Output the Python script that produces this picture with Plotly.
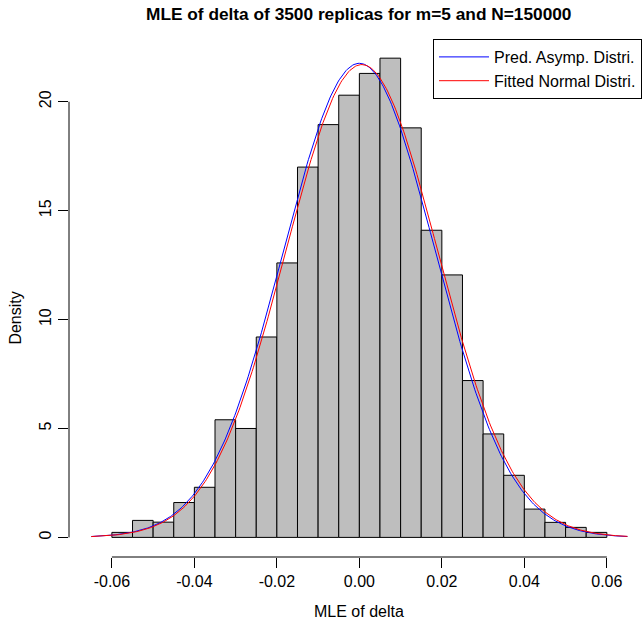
import numpy as np
import plotly.graph_objects as go

# Histogram: bin edges (width 0.005) and densities
bin_left = [-0.060, -0.055, -0.050, -0.045, -0.040, -0.035, -0.030, -0.025,
            -0.020, -0.015, -0.010, -0.005, 0.000, 0.005, 0.010, 0.015,
            0.020, 0.025, 0.030, 0.035, 0.040, 0.045, 0.050, 0.055]
bin_width = 0.005
density = [0.23, 0.78, 0.70, 1.60, 2.30, 5.40, 5.00, 9.20,
           12.60, 17.00, 18.95, 20.30, 21.30, 22.00, 18.80, 14.10,
           12.05, 7.20, 4.75, 2.85, 1.30, 0.69, 0.46, 0.23]

# Normal curves (mean, sd)
pred_mean, pred_sd = 0.0000, 0.01833
fit_mean, fit_sd = 0.0006, 0.01838
curve_from, curve_to = -0.065, 0.065

x_ticks = [-0.06, -0.04, -0.02, 0.00, 0.02, 0.04, 0.06]
x_tick_labels = ["-0.06", "-0.04", "-0.02", "0.00", "0.02", "0.04", "0.06"]
y_ticks = [0, 5, 10, 15, 20]

FONT = "Liberation Sans, Arial, Helvetica, sans-serif"

def dnorm(x, m, s):
    return np.exp(-0.5 * ((x - m) / s) ** 2) / (s * np.sqrt(2 * np.pi))

xs = np.linspace(curve_from, curve_to, 401)
centers = [b + bin_width / 2 for b in bin_left]

fig = go.Figure()
fig.add_trace(go.Bar(
    x=centers, y=density, width=bin_width,
    marker=dict(color="#BEBEBE", line=dict(color="black", width=1)),
    showlegend=False, hoverinfo="skip"))
fig.add_trace(go.Scatter(
    x=xs, y=dnorm(xs, pred_mean, pred_sd), mode="lines",
    line=dict(color="blue", width=1), name="Pred. Asymp. Distri."))
fig.add_trace(go.Scatter(
    x=xs, y=dnorm(xs, fit_mean, fit_sd), mode="lines",
    line=dict(color="red", width=1), name="Fitted Normal Distri."))

fig.update_layout(
    width=642, height=623,
    margin=dict(l=69, r=0, t=39, b=66),
    paper_bgcolor="white", plot_bgcolor="white",
    font=dict(family=FONT, size=16, color="black"),
    bargap=0,
    xaxis=dict(range=[-0.0704, 0.0678], tickvals=x_ticks, ticktext=x_tick_labels,
               ticks="outside", ticklen=10, tickcolor="black", tickwidth=1,
               showgrid=False, zeroline=False, showline=False,
               tickfont=dict(size=16), ticklabelstandoff=0),
    yaxis=dict(range=[-0.9, 22.88], tickvals=y_ticks,
               ticks="outside", ticklen=10, tickcolor="black", tickwidth=1,
               showgrid=False, zeroline=False, showline=False, tickangle=-90,
               tickfont=dict(size=16), ticklabelstandoff=1),
    legend=dict(x=1.006, y=1, xanchor="right", yanchor="top",
                bordercolor="black", borderwidth=1, bgcolor="white",
                font=dict(size=16), tracegroupgap=0, itemwidth=50),
    shapes=[
        dict(type="line", xref="x", yref="paper", x0=x_ticks[0], x1=x_ticks[-1],
             y0=0, y1=0, line=dict(color="black", width=1)),
        dict(type="line", xref="paper", yref="y", x0=0, x1=0,
             y0=y_ticks[0], y1=y_ticks[-1], line=dict(color="black", width=1)),
    ],
    annotations=[
        dict(text="<b>MLE of delta of 3500 replicas for m=5 and N=150000</b>",
             xref="paper", yref="paper", x=0.508, y=1.048, showarrow=False,
             xanchor="center", yanchor="middle", font=dict(size=17.3)),
        dict(text="MLE of delta", xref="x", yref="paper", x=0.0, y=-0.106,
             showarrow=False, xanchor="center", yanchor="middle", font=dict(size=16)),
        dict(text="Density", xref="paper", yref="paper", x=-0.094, y=0.461,
             showarrow=False, xanchor="center", yanchor="middle", textangle=-90,
             font=dict(size=16)),
    ],
)

fig.write_html(
    "out.html",
    config={"displayModeBar": False, "staticPlot": True},
    post_script="document.documentElement.style.margin='0';"
                "document.body.style.margin='0';"
                "document.body.style.overflow='hidden';",
)
